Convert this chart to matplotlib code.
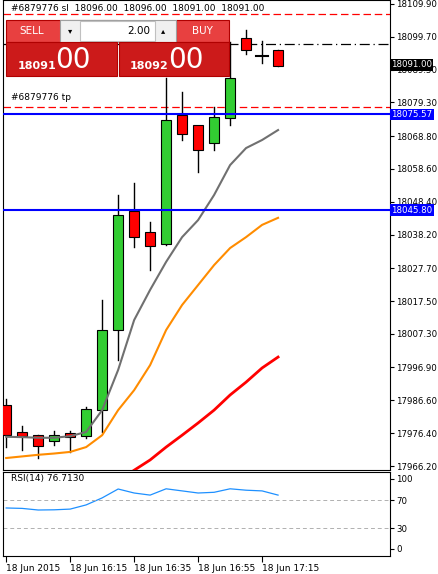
import matplotlib.pyplot as plt
import matplotlib.patches as mpatches
import numpy as np

# candle data (5-minute bars)
opens  = [17985.2, 17976.8, 17975.8, 17973.9, 17976.5, 17975.5, 17983.6, 18008.5, 18045.5, 18039.0, 18035.3, 18075.4, 18072.3, 18066.6, 18074.4, 18099.3, 18093.7, 18095.6]
closes = [17975.8, 17975.5, 17972.4, 17975.8, 17975.2, 17983.9, 18008.5, 18044.3, 18037.4, 18034.6, 18073.8, 18069.5, 18064.5, 18074.8, 18086.9, 18095.6, 18093.7, 18090.6]
highs  = [17987.0, 17978.6, 17976.0, 17977.1, 17977.1, 17984.5, 18017.8, 18050.5, 18054.2, 18042.1, 18086.9, 18082.5, 18068.2, 18077.9, 18098.1, 18101.8, 18098.4, 18095.6]
lows   = [17972.0, 17971.2, 17968.7, 17972.7, 17970.6, 17974.9, 17976.8, 17999.2, 18034.3, 18027.2, 18035.0, 18067.6, 18057.7, 18064.5, 18072.3, 18094.3, 18091.5, 18090.6]
ma_gray   = [17975.3, 17975.2, 17975.0, 17975.0, 17975.5, 17976.8, 17983.6, 17996.1, 18011.6, 18021.0, 18029.7, 18037.4, 18042.7, 18050.5, 18059.8, 18065.1, 18067.6, 18070.7]
ma_orange = [17968.7, 17969.2, 17969.7, 17970.1, 17970.6, 17972.1, 17975.8, 17983.6, 17989.8, 17997.6, 18008.5, 18016.3, 18022.5, 18028.7, 18034.0, 18037.4, 18041.2, 18043.4]
ma_red    = [17964.9, 17968.1, 17972.1, 17975.8, 17979.6, 17983.6, 17988.3, 17992.3, 17996.7, 18000.1]
ma_red_start = 8
rsi = [58.6, 58, 55.7, 56, 57, 63, 73, 85.7, 80, 77, 86, 83, 80, 81, 86, 84, 83, 77]
price_ticks = [18109.90, 18099.70, 18089.50, 18079.30, 18068.80, 18058.60, 18048.40, 18038.20,
               18027.70, 18017.50, 18007.30, 17996.90, 17986.60, 17976.40, 17966.20]
time_idx = [0, 4, 8, 12, 16]
time_labels = ['18 Jun 2015', '18 Jun 16:15', '18 Jun 16:35', '18 Jun 16:55', '18 Jun 17:15']
blue_levels = [18075.57, 18045.80]
bid = 18091.00

W, H = 438, 574
fig = plt.figure(figsize=(W / 100, H / 100), dpi=100)
plt.rcParams['font.family'] = 'DejaVu Sans'

def rect(l, t, r, b):
    return [l / W, 1 - b / H, (r - l) / W, (b - t) / H]

ax = fig.add_axes(rect(3, 0, 390, 470))
rx = fig.add_axes(rect(3, 472, 390, 556), sharex=ax)

y0p, y1p = 18109.9 + 4 * 0.311, 18109.9 - 466 * 0.311
ax.set_ylim(y1p, y0p)
ax.set_xlim(-0.2, 24.0)

for i, (o, c, h, l) in enumerate(zip(opens, closes, highs, lows)):
    ax.plot([i, i], [l, h], color='black', lw=1, zorder=3)
    col = '#32cd32' if c > o else '#ff0000'
    if abs(c - o) < 0.3:
        ax.plot([i - 0.35, i + 0.35], [o, o], color='black', lw=1.5, zorder=4)
    else:
        ax.add_patch(mpatches.Rectangle((i - 0.33, min(o, c)), 0.66, abs(c - o),
                                        facecolor=col, edgecolor='black', lw=0.8, zorder=4))

xs = np.arange(len(ma_gray))
ax.plot(xs, ma_gray, color='#707070', lw=1.5, zorder=5)
ax.plot(xs, ma_orange, color='#ff8c00', lw=1.5, zorder=5)
ax.plot(np.arange(ma_red_start, ma_red_start + len(ma_red)), ma_red, color='#ff0000', lw=2, zorder=5)

for lv in blue_levels:
    ax.axhline(lv, color='#0000ff', lw=1.5, zorder=6)
ax.axhline(18106.8, color='#ff0000', lw=0.9, ls=(0, (6, 3)), zorder=2)
ax.axhline(18077.9, color='#ff0000', lw=0.9, ls=(0, (6, 3)), zorder=2)
ax.axhline(18097.5, color='black', lw=0.9, ls=(0, (8, 3, 1, 3)), zorder=2)
ax.text(0.3, 18079.3, '#6879776 tp', fontsize=6.5, va='bottom')
ax.text(0.3, 18108.5, '#6879776 sl  18096.00  18096.00  18091.00  18091.00', fontsize=6.5, va='center')

ax.yaxis.tick_right()
ax.set_yticks(price_ticks)
ax.set_yticklabels([f'{p:.2f}' for p in price_ticks], fontsize=6.2)
ax.tick_params(axis='y', length=3, pad=1.5)
ax.tick_params(axis='x', bottom=False, labelbottom=False)
for lv, bg in [(bid, 'black')] + [(b, '#0000ff') for b in blue_levels]:
    ax.text(1.003, (lv - y1p) / (y0p - y1p), f'{lv:.2f}', transform=ax.transAxes, fontsize=6.2,
            color='white', va='center', ha='left', zorder=20,
            bbox=dict(boxstyle='square,pad=0.15', fc=bg, ec='none'))

# trade panel
def box(l, t, r, b, fc, ec='#b00000'):
    fig.patches.append(mpatches.Rectangle((l / W, 1 - b / H), (r - l) / W, (b - t) / H,
                                          transform=fig.transFigure, fc=fc, ec=ec, lw=0.8, zorder=10))
box(6, 20, 117, 42, '#e84040')
box(176, 20, 229, 42, '#e84040')
box(60, 20, 176, 42, '#f0f0f0', '#a0a0a0')
box(80, 21, 155, 41, 'white', '#c0c0c0')
box(6, 42, 117, 76, '#cc1a1a')
box(119, 42, 229, 76, '#cc1a1a')
def ft(x, y, s, **kw):
    fig.text(x / W, 1 - y / H, s, zorder=11, **kw)
ft(32, 31, 'SELL', color='white', fontsize=7.5, va='center', ha='center')
ft(202, 31, 'BUY', color='white', fontsize=7.5, va='center', ha='center')
ft(150, 31, '2.00', color='black', fontsize=7.5, va='center', ha='right')
ft(70, 31, '▾', color='black', fontsize=6, va='center', ha='center')
ft(163, 31, '▴', color='black', fontsize=6, va='center', ha='center')
ft(18, 66, '18091', color='white', fontsize=8, weight='bold', va='center')
ft(55, 60, '00', color='white', fontsize=20, va='center')
ft(130, 66, '18092', color='white', fontsize=8, weight='bold', va='center')
ft(168, 60, '00', color='white', fontsize=20, va='center')

# RSI
rx.plot(xs, rsi, color='#1e90ff', lw=0.9)
rx.set_ylim(-10, 110)
for lv in [70, 30]:
    rx.axhline(lv, color='#b0b0b0', lw=0.7, ls=(0, (4, 3)))
rx.yaxis.tick_right()
rx.set_yticks([100, 70, 30, 0])
rx.tick_params(axis='y', labelsize=6.2, length=3, pad=1.5)
rx.text(0.3, 100, 'RSI(14) 76.7130', fontsize=6.5, va='center')
rx.set_xticks(time_idx)
rx.set_xticklabels(time_labels, fontsize=6.5, ha='left')
rx.tick_params(axis='x', length=4, pad=2)

fig.savefig('out.png', dpi=100)
